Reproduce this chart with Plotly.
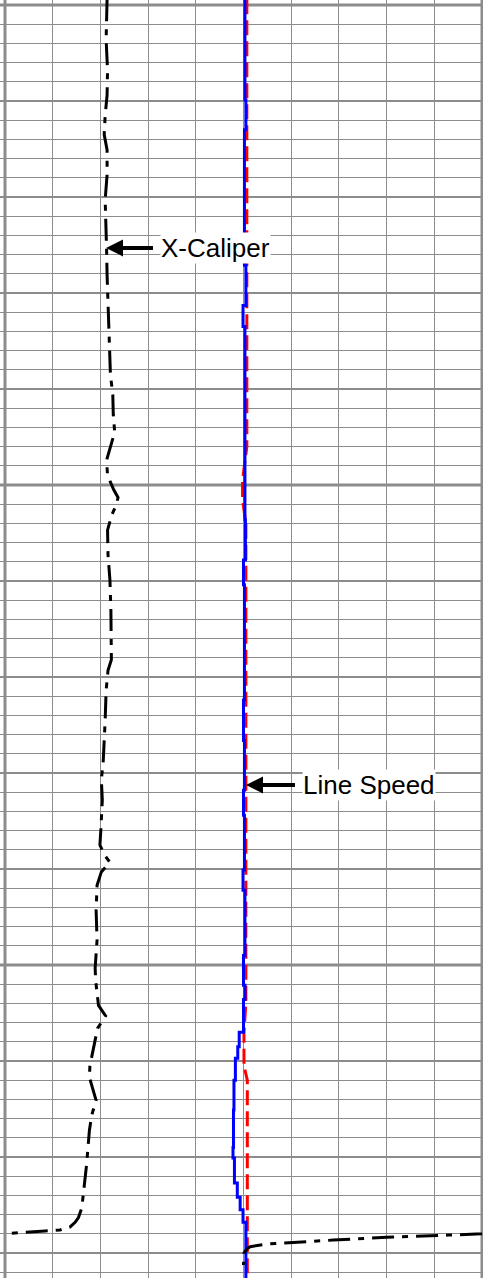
import numpy as np
import plotly.graph_objects as go

# ---- Log data: depth in ft, curve readings in track divisions (0 = left edge, 10 = right edge)

# X-Caliper (wraps around the track when it drops below the left edge)
cal_depth = [999.4, 1003.6, 1006.8, 1009.4, 1011.5, 1013.5, 1015.1, 1017.7, 1020.3, 1022.9,
             1025.5, 1028.1, 1030.7, 1033.9, 1036.5, 1038.5, 1040.6, 1042.7, 1044.5, 1045.8,
             1047.4, 1049.0, 1050.5, 1051.3, 1052.1, 1053.1, 1054.7, 1057.3, 1059.9, 1063.0,
             1066.2, 1068.2, 1069.3, 1071.4, 1074.5, 1078.7, 1080.7, 1082.8, 1085.9, 1087.5,
             1088.5, 1089.3, 1090.3, 1091.7, 1094.3, 1097.4, 1100.3, 1101.6, 1104.2, 1105.3,
             1106.6, 1109.2, 1110.5, 1111.7, 1114.1, 1115.6, 1117.2, 1120.8, 1122.1, 1124.0,
             1125.3, 1126.3, 1126.8, 1127.3, 1127.6, 1127.7, 1127.86, 1127.97, 1128.0, 1128.13,
             1128.36, 1128.65, 1128.82, 1129.06, 1129.34, 1129.58, 1130.0, 1131.25]
cal_value = [2.14, 2.12, 2.15, 2.14, 2.10, 2.08, 2.14, 2.14, 2.10, 2.12,
             2.13, 2.14, 2.16, 2.18, 2.19, 2.21, 2.26, 2.27, 2.30, 2.22,
             2.13, 2.15, 2.28, 2.37, 2.33, 2.24, 2.15, 2.16, 2.20, 2.22,
             2.22, 2.23, 2.16, 2.12, 2.10, 2.06, 2.02, 2.04, 2.01, 1.99,
             2.08, 2.20, 2.02, 1.93, 1.91, 1.93, 1.89, 1.90, 1.96, 2.11,
             1.94, 1.84, 1.78, 1.77, 1.91, 1.82, 1.77, 1.71, 1.68, 1.64,
             1.61, 1.54, 1.47, 1.36, 1.15, 0.84, 0.42, 0.02, -0.01, -0.71,
             -2.00, -3.12, -3.68, -4.51, -4.86, -4.93, -4.99, -5.00]

# Line speed (stepped record)
speed_depth = [999.4, 1009.9, 1013.0, 1027.1, 1031.3, 1033.5, 1053.6, 1057.8, 1060.4, 1072.4,
               1076.6, 1081.8, 1084.4, 1090.1, 1092.2, 1099.0, 1102.1, 1103.6, 1107.0, 1108.5,
               1109.7, 1112.0, 1115.1, 1119.0, 1120.1, 1122.7, 1124.2, 1125.5, 1126.8, 1132.8]
speed_value = [5.03, 5.05, 5.02, 5.05, 4.99, 5.03, 5.04, 5.00, 5.02, 5.00,
               5.02, 5.00, 5.02, 4.99, 5.03, 5.00, 5.03, 5.00, 4.91, 4.88,
               4.83, 4.80, 4.79, 4.78, 4.81, 4.87, 4.93, 4.99, 5.05, 5.05]

# Reference speed (dashed red)
ref_depth = [999.4, 1012.0, 1022.0, 1035.0, 1046.0, 1049.5, 1051.5, 1054.0, 1070.0, 1090.0,
             1104.0, 1107.0, 1110.5, 1112.0, 1132.8]
ref_value = [5.07, 5.07, 5.06, 5.06, 5.07, 4.98, 4.98, 5.05, 5.05, 5.04,
             5.05, 5.01, 5.01, 5.08, 5.08]

# ---- Track geometry
TRACK_MIN, TRACK_MAX = 0, 10
X_RANGE = [-0.1048, 10.021]
DEPTH_TOP, DEPTH_BOTTOM = 999.48, 1132.6
GRID = "#8c8c8c"


def wrap_curve(depth, value, lo=TRACK_MIN, hi=TRACK_MAX):
    """Wrap readings that fall below the left edge back in from the right edge."""
    span = hi - lo
    xs, ys = [], []
    for i, (d, v) in enumerate(zip(depth, value)):
        if i > 0:
            d0, v0 = depth[i - 1], value[i - 1]
            if (v0 >= lo) != (v >= lo):
                dc = d0 + (lo - v0) * (d - d0) / (v - v0)
                if v0 >= lo:
                    xs += [lo, None, hi]
                else:
                    xs += [hi, None, lo]
                ys += [dc, None, dc]
        xs.append(v + span if v < lo else v)
        ys.append(d)
    return xs, ys


cal_x, cal_y = wrap_curve(cal_depth, cal_value)

fig = go.Figure()

fig.add_trace(go.Scatter(
    x=ref_value, y=ref_depth, mode="lines",
    line=dict(color="#ff0000", width=3, dash="15px,6px"),
    hoverinfo="skip", showlegend=False))

fig.add_trace(go.Scatter(
    x=speed_value, y=speed_depth, mode="lines",
    line=dict(color="#0000ff", width=3, shape="vh"),
    hoverinfo="skip", showlegend=False))

fig.add_trace(go.Scatter(
    x=cal_x, y=cal_y, mode="lines", connectgaps=False,
    line=dict(color="#000000", width=3, dash="22px,8px,6px,8px"),
    hoverinfo="skip", showlegend=False))

# Heavy grid: track edges and every 50 ft
shapes = []
for xv in (TRACK_MIN, TRACK_MAX):
    shapes.append(dict(type="line", xref="x", yref="paper", x0=xv, x1=xv, y0=0, y1=1,
                       line=dict(color=GRID, width=3), layer="below"))
for dv in np.arange(1000, DEPTH_BOTTOM, 50):
    shapes.append(dict(type="line", xref="paper", yref="y", x0=0, x1=1, y0=dv, y1=dv,
                       line=dict(color=GRID, width=3), layer="below"))

label_font = dict(family="Liberation Sans, Arial, sans-serif", size=26, color="#000000")

annotations = [
    dict(x=2.117, y=1025.3, xref="x", yref="y", text="X-Caliper",
         showarrow=True, arrowhead=2, arrowsize=0.85, arrowwidth=4, arrowcolor="#000000",
         ax=54, ay=0, xanchor="left", yanchor="middle", standoff=0, startstandoff=7,
         bgcolor="#ffffff", borderpad=0, font=label_font),
    dict(x=5.052, y=1081.25, xref="x", yref="y", text="Line Speed",
         showarrow=True, arrowhead=2, arrowsize=0.85, arrowwidth=4, arrowcolor="#000000",
         ax=56, ay=0, xanchor="left", yanchor="middle", standoff=0, startstandoff=7,
         bgcolor="#ffffff", borderpad=0, font=label_font),
]

fig.update_layout(
    width=483, height=1278,
    margin=dict(l=0, r=0, t=0, b=0, pad=0),
    paper_bgcolor="#ffffff", plot_bgcolor="#ffffff",
    shapes=shapes, annotations=annotations,
    showlegend=False,
)

fig.update_xaxes(
    range=X_RANGE, showticklabels=False, ticks="", zeroline=False, showline=False,
    showgrid=True, tick0=0, dtick=1, gridcolor=GRID, gridwidth=1, fixedrange=True,
)

fig.update_yaxes(
    range=[DEPTH_BOTTOM, DEPTH_TOP], showticklabels=False, ticks="", zeroline=False,
    showline=False, showgrid=True, tick0=1000, dtick=10, gridcolor=GRID, gridwidth=2,
    minor=dict(tick0=1000, dtick=2, showgrid=True, gridcolor=GRID, gridwidth=1),
    fixedrange=True,
)

fig.write_html("out.html")
